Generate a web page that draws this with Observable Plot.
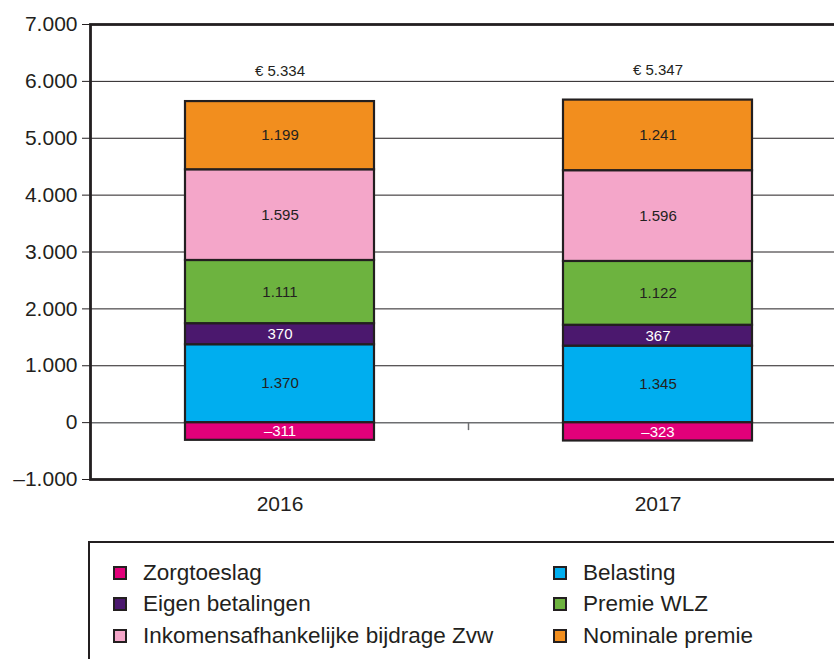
<!DOCTYPE html>
<html>
<head>
<meta charset="utf-8">
<script src="https://cdn.jsdelivr.net/npm/d3@7"></script>
<script src="https://cdn.jsdelivr.net/npm/@observablehq/plot@0.6"></script>
<style>
  body { margin: 0; background: #fff; }
  #wrap { position: relative; width: 834px; height: 659px; overflow: hidden; font-family: "Liberation Sans", Arial, sans-serif; color: #231f20; }
  #legend { position: absolute; left: 88px; top: 541px; width: 800px; height: 140px; border: 2.5px solid #231f20; box-sizing: border-box;
    display: grid; grid-template-rows: repeat(3, 31.5px); grid-auto-flow: column; grid-template-columns: 440px 300px; padding: 14px 0 0 23px; }
  .item { display: flex; align-items: center; font-size: 22.5px; white-space: nowrap; }
  .sw { width: 14px; height: 14px; border: 2px solid #231f20; box-sizing: border-box; margin-right: 16px; flex: none; }
</style>
</head>
<body>
<div id="wrap"></div>
<script>
const years = ["2016", "2017"];
const categories = ["Zorgtoeslag", "Belasting", "Eigen betalingen", "Premie WLZ", "Inkomensafhankelijke bijdrage Zvw", "Nominale premie"];
const colors = ["#e2007a", "#00aeef", "#4b186e", "#6db33f", "#f4a6c9", "#f28e1e"];
const values2016 = [-311, 1370, 370, 1111, 1595, 1199];
const values2017 = [-323, 1345, 367, 1122, 1596, 1241];
const totals = [5334, 5347];
const yTicks = [-1000, 0, 1000, 2000, 3000, 4000, 5000, 6000, 7000];
const gridTicks = [1000, 2000, 3000, 4000, 5000, 6000];
const legendOrder = ["Zorgtoeslag", "Eigen betalingen", "Inkomensafhankelijke bijdrage Zvw", "Belasting", "Premie WLZ", "Nominale premie"];
const whiteLabels = ["Zorgtoeslag", "Eigen betalingen"];

const loc = d3.formatLocale({decimal: ",", thousands: ".", grouping: [3], currency: ["€ ", ""], minus: "\u2013"});
const fmt = loc.format(",d");

const seriesByYear = {"2016": values2016, "2017": values2017};
const data = [];
years.forEach(y => categories.forEach((c, i) => data.push({year: y, category: c, value: seriesByYear[y][i]})));
const totalRows = years.map((y, i) => ({year: y, total: totals[i], top: d3.sum(seriesByYear[y].filter(v => v > 0))}));

const boundaryTick = (index, scales, values, dimensions) => {
  const x0 = scales.x(years[0]), x1 = scales.x(years[1]);
  const step = x1 - x0;
  const bx = x0 + 0.75 * step;
  const y0 = scales.y(0);
  const g = d3.create("svg:g");
  g.append("line").attr("x1", bx).attr("x2", bx).attr("y1", y0).attr("y2", y0 + 8)
    .attr("stroke", "#6d6e71").attr("stroke-width", 1.5);
  return g.node();
};

const chart = Plot.plot({
  width: 834,
  height: 530,
  marginLeft: 90,
  marginRight: -12,
  marginTop: 24,
  marginBottom: 51,
  style: {fontFamily: "'Liberation Sans', Arial, sans-serif", fontSize: "21px", color: "#231f20", background: "#fff"},
  x: {domain: years, paddingInner: 0.5, paddingOuter: 0.25, tickSize: 0, tickPadding: 17, label: null},
  y: {domain: [-1000, 7000], ticks: yTicks, tickFormat: fmt, tickSize: 8, tickPadding: 5, label: null},
  color: {domain: categories, range: colors},
  marks: [
    Plot.ruleY(gridTicks, {stroke: "#231f20", strokeWidth: 1}),
    Plot.ruleY([0], {stroke: "#6d6e71", strokeWidth: 1.5}),
    boundaryTick,
    Plot.barY(data, {x: "year", y: "value", fill: "category", stroke: "#231f20", strokeWidth: 2.2}),
    Plot.text(data, Plot.stackY({x: "year", y: "value", z: "category",
      text: d => whiteLabels.includes(d.category) ? "" : fmt(d.value), fill: "#231f20", fontSize: 15})),
    Plot.text(data, Plot.stackY({x: "year", y: "value", z: "category",
      text: d => whiteLabels.includes(d.category) ? fmt(d.value) : "", fill: "#ffffff", fontSize: 15})),
    Plot.text(totalRows, {x: "year", y: "top", text: d => "€ " + fmt(d.total), dy: -30, fontSize: 15, fill: "#231f20"}),
    Plot.frame({stroke: "#231f20", strokeWidth: 2.8})
  ]
});

const wrap = document.getElementById("wrap");
wrap.appendChild(chart);

const legend = document.createElement("div");
legend.id = "legend";
legendOrder.forEach(c => {
  const it = document.createElement("div");
  it.className = "item";
  const sw = document.createElement("span");
  sw.className = "sw";
  sw.style.background = colors[categories.indexOf(c)];
  const t = document.createElement("span");
  t.textContent = c;
  it.appendChild(sw);
  it.appendChild(t);
  legend.appendChild(it);
});
wrap.appendChild(legend);
</script>
</body>
</html>
